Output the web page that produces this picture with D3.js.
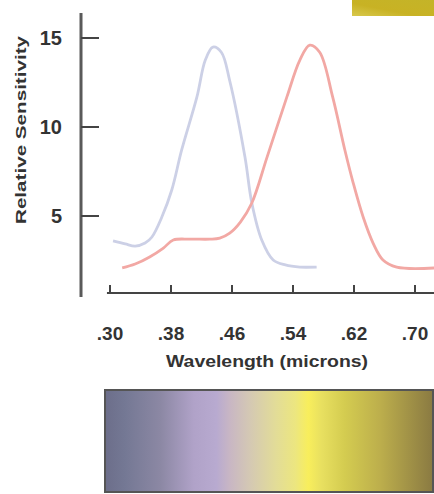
<!DOCTYPE html>
<html lang="en">
  <head>
    <meta charset="UTF-8" />
    <title>Relative Sensitivity</title>
    <script src="https://d3js.org/d3.v7.min.js"></script>
    <style>
      body { margin: 0; background: #fff; }
      svg text { font-family: "Liberation Sans", Arial, sans-serif; font-weight: bold; fill: #333; }
    </style>
  </head>
  <body>
    <div id="chart"></div>
    <script>
      // wavelength (microns) / relative sensitivity
      const blueWave = [0.304, 0.320, 0.333, 0.346, 0.355, 0.368, 0.381, 0.394, 0.414, 0.425, 0.435, 0.446, 0.457, 0.477, 0.486, 0.499, 0.514, 0.530, 0.549, 0.571];
      const blueSens = [3.6, 3.43, 3.31, 3.48, 3.82, 4.94, 6.46, 8.71, 11.69, 13.76, 14.49, 14.2, 12.6, 8.31, 5.73, 3.65, 2.53, 2.25, 2.13, 2.13];
      const pinkWave = [0.316, 0.333, 0.352, 0.370, 0.383, 0.405, 0.431, 0.444, 0.457, 0.471, 0.486, 0.506, 0.532, 0.549, 0.562, 0.575, 0.592, 0.608, 0.619, 0.632, 0.645, 0.658, 0.676, 0.725];
      const pinkSens = [2.08, 2.30, 2.70, 3.2, 3.65, 3.7, 3.7, 3.76, 4.04, 4.66, 5.73, 8.31, 11.69, 13.76, 14.6, 14.2, 11.69, 8.71, 6.85, 4.94, 3.48, 2.53, 2.13, 2.08];
      const xTicks = [0.30, 0.38, 0.46, 0.54, 0.62, 0.70];
      const yTicks = [5, 10, 15];
      const spectrumStops = [
        [0, "#6c6e8a"], [0.06, "#747894"], [0.17, "#8c88a4"], [0.27, "#b0a2c8"],
        [0.34, "#b8aad0"], [0.38, "#c8b6c4"], [0.44, "#d4c8b4"], [0.52, "#e2dc98"],
        [0.58, "#ece680"], [0.62, "#f8ee5c"], [0.66, "#e8e060"], [0.73, "#d4cc50"],
        [0.84, "#bcae4c"], [1, "#8a7a42"]
      ];

      const width = 434, height = 494;
      const svg = d3.select("#chart").append("svg")
        .attr("width", width).attr("height", height);

      const x = d3.scaleLinear().domain([0.30, 0.70]).range([110, 415]);
      const y = d3.scaleLinear().domain([0, 15]).range([305, 38]);

      const defs = svg.append("defs");
      const grad = defs.append("linearGradient").attr("id", "spectrum");
      grad.selectAll("stop").data(spectrumStops).enter().append("stop")
        .attr("offset", d => d[0]).attr("stop-color", d => d[1]);
      const gold = defs.append("linearGradient").attr("id", "gold")
        .attr("x1", 0).attr("y1", 1).attr("x2", 1).attr("y2", 0);
      gold.append("stop").attr("offset", 0).attr("stop-color", "#d8c84c");
      gold.append("stop").attr("offset", 0.4).attr("stop-color", "#c8b224");
      gold.append("stop").attr("offset", 1).attr("stop-color", "#c4b428");

      // gold patch top right
      svg.append("rect").attr("x", 352).attr("y", 0).attr("width", 82).attr("height", 16)
        .attr("fill", "url(#gold)");

      // y axis
      svg.append("line").attr("x1", 81).attr("x2", 81).attr("y1", 13).attr("y2", 297)
        .attr("stroke", "#5a5a5a").attr("stroke-width", 3);
      svg.selectAll(".ytick").data(yTicks).enter().append("line")
        .attr("x1", 81).attr("x2", 99).attr("y1", d => y(d)).attr("y2", d => y(d))
        .attr("stroke", "#444").attr("stroke-width", 2);
      svg.selectAll(".ylab").data(yTicks).enter().append("text")
        .attr("x", 62).attr("y", d => y(d)).attr("dy", "0.36em")
        .attr("text-anchor", "end").attr("font-size", 20).text(d => d);
      svg.append("text")
        .attr("transform", "translate(26,130) rotate(-90)")
        .attr("text-anchor", "middle").attr("font-size", 15)
        .attr("textLength", 188).attr("lengthAdjust", "spacingAndGlyphs")
        .text("Relative Sensitivity");

      // x axis
      svg.append("line").attr("x1", x(0.296)).attr("x2", 434).attr("y1", 293).attr("y2", 293)
        .attr("stroke", "#444").attr("stroke-width", 2);
      svg.selectAll(".xtick").data(xTicks).enter().append("line")
        .attr("x1", d => x(d)).attr("x2", d => x(d)).attr("y1", 285).attr("y2", 293)
        .attr("stroke", "#444").attr("stroke-width", 2);
      svg.selectAll(".xlab").data(xTicks).enter().append("text")
        .attr("x", d => x(d)).attr("y", 340)
        .attr("text-anchor", "middle").attr("font-size", 19)
        .text(d => d3.format(".2f")(d).replace(/^0/, ""));
      svg.append("text")
        .attr("x", 267).attr("y", 367).attr("text-anchor", "middle").attr("font-size", 16)
        .attr("textLength", 202).attr("lengthAdjust", "spacingAndGlyphs")
        .text("Wavelength (microns)");

      // curves
      const line = d3.line().x(d => x(d[0])).y(d => y(d[1])).curve(d3.curveCatmullRom.alpha(0.5));
      svg.append("path").datum(d3.zip(blueWave, blueSens)).attr("d", line)
        .attr("fill", "none").attr("stroke", "#ccd0e6").attr("stroke-width", 2.8);
      svg.append("path").datum(d3.zip(pinkWave, pinkSens)).attr("d", line)
        .attr("fill", "none").attr("stroke", "#f2a8a4").attr("stroke-width", 2.8);

      // spectrum bar
      svg.append("rect").attr("x", 105).attr("y", 390).attr("width", 328).attr("height", 102)
        .attr("fill", "url(#spectrum)").attr("stroke", "#555").attr("stroke-width", 2);
    </script>
  </body>
</html>
